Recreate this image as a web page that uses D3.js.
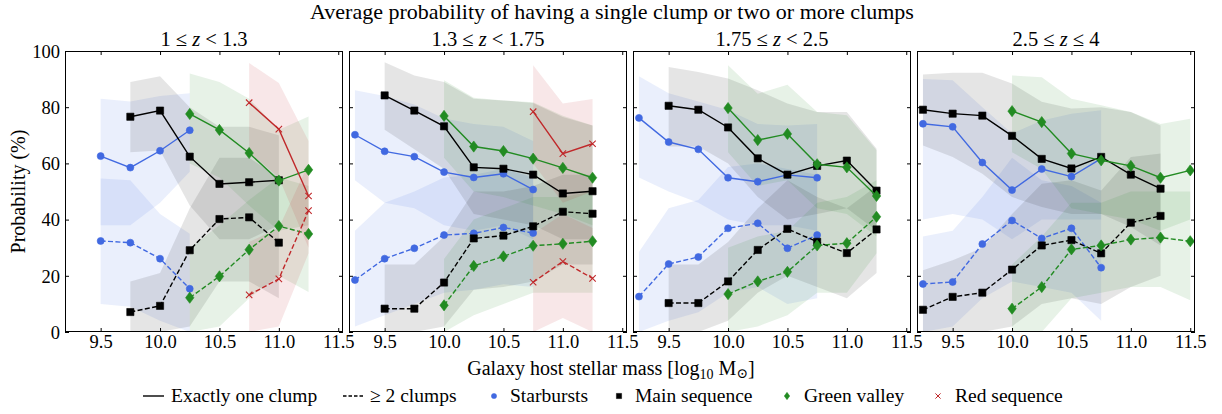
<!DOCTYPE html>
<html>
<head>
<meta charset="utf-8">
<script src="https://cdn.jsdelivr.net/npm/d3@7"></script>
<style>
  html, body { margin: 0; padding: 0; background: #fff; }
  svg { display: block; }
  svg text { font-family: "Liberation Serif", "Tinos", "Times New Roman", "DejaVu Serif", serif; }
</style>
</head>
<body>
<svg id="chart" width="1222" height="414"></svg>
<script>
// Redshift bins (one panel each)
const panelTitles = [
  ["1 \u2264 ", "z", " < 1.3"],
  ["1.3 \u2264 ", "z", " < 1.75"],
  ["1.75 \u2264 ", "z", " < 2.5"],
  ["2.5 \u2264 ", "z", " \u2264 4"]
];
const xTicks = [9.5, 10.0, 10.5, 11.0, 11.5];
const yTicks = [0, 20, 40, 60, 80, 100];

// Starbursts: mass bins, P(one clump), P(>=2 clumps) and their bands, per panel
const sbMass = [
  [9.5, 9.75, 10.0, 10.25],
  [9.25, 9.5, 9.75, 10.0, 10.25, 10.5, 10.75],
  [9.25, 9.5, 9.75, 10.0, 10.25, 10.5, 10.75],
  [9.25, 9.5, 9.75, 10.0, 10.25, 10.5, 10.75]
];
const sbOne = [
  [62.6, 58.5, 64.5, 71.8],
  [70.2, 64.3, 62.4, 56.9, 55.0, 56.3, 50.7],
  [76.2, 67.6, 65.0, 54.9, 53.5, 55.9, 54.9],
  [74.1, 73.0, 60.3, 50.5, 58.0, 55.3, 61.7]
];
const sbOneHi = [
  [83, 82, 84, 85],
  [86, 84, 81, 76, 74, 73, 68],
  [91, 85, 82, 79, 74, 73.5, 74],
  [90, 89.6, 80, 70.6, 75.3, 77.7, 78.9]
];
const sbOneLo = [
  [38, 38, 46, 57],
  [54, 46, 44, 38, 36, 38, 33],
  [55, 50, 46, 40, 38, 38, 36],
  [40, 42, 40, 33, 40, 40, 40]
];
const sbMulti = [
  [32.4, 31.8, 26.1, 15.4],
  [18.5, 26.1, 29.8, 34.5, 35.1, 37.2, 35.2],
  [12.6, 24.2, 26.7, 36.9, 38.7, 29.8, 34.5],
  [17.1, 17.8, 31.3, 39.7, 33.3, 36.9, 22.9]
];
const sbMultiHi = [
  [54.6, 54, 42, 35],
  [36, 46, 50, 55, 56, 58, 55],
  [28.5, 44, 47, 58.7, 60, 58, 56],
  [34, 36, 48, 62, 54, 52, 46]
];
const sbMultiLo = [
  [10, 9, 4, 0],
  [2, 6, 10, 14, 15, 17, 16],
  [0, 4, 7, 14, 16, 10, 12],
  [0, 2, 12, 18, 16, 14, 4]
];

// Main sequence
const msMass = [
  [9.75, 10.0, 10.25, 10.5, 10.75, 11.0],
  [9.5, 9.75, 10.0, 10.25, 10.5, 10.75, 11.0, 11.25],
  [9.5, 9.75, 10.0, 10.25, 10.5, 10.75, 11.0, 11.25],
  [9.25, 9.5, 9.75, 10.0, 10.25, 10.5, 10.75, 11.0, 11.25]
];
const msOne = [
  [76.6, 78.8, 62.4, 52.7, 53.3, 54.0],
  [84.2, 78.8, 73.2, 58.6, 58.1, 56.0, 49.3, 50.1],
  [80.5, 79.1, 72.8, 61.8, 56.0, 59.1, 61.0, 50.3],
  [79.1, 77.7, 77.0, 69.8, 61.6, 58.2, 62.3, 56.0, 51.0]
];
const msOneHi = [
  [89, 91, 80, 73, 73, 70],
  [96, 91.3, 89, 83, 82.4, 81.5, 76.5, 73.5],
  [94.3, 92.5, 90.2, 86, 81.3, 78.3, 78.3, 65.2],
  [91.6, 92.3, 92.3, 88.4, 81.9, 79.5, 80, 78.3, 73.5]
];
const msOneLo = [
  [64, 64.6, 45, 33, 33, 38],
  [72, 65, 58, 42, 40, 38, 33, 33],
  [66, 66, 60, 48, 40, 42, 44, 36],
  [66.4, 62.3, 56.3, 48, 44.5, 42, 42, 37.4, 30.8]
];
const msMulti = [
  [7.1, 9.3, 29.1, 40.2, 40.8, 31.8],
  [8.3, 8.3, 17.6, 33.3, 34.3, 37.6, 42.8, 42.1],
  [10.3, 10.3, 18.0, 29.2, 36.7, 32.1, 28.1, 36.5],
  [7.9, 12.5, 14.0, 22.2, 30.8, 32.7, 28.0, 38.9, 41.3]
];
const msMultiHi = [
  [18, 21, 44, 62, 62, 55],
  [24, 24, 34, 50, 50, 52, 56, 56],
  [24, 24, 32, 44, 54, 48, 44, 52],
  [22, 25.5, 30, 42, 52.8, 54, 50.4, 62.3, 63.5]
];
const msMultiLo = [
  [0, 0, 2, 18, 18, 12],
  [0, 0, 2, 15, 16, 18, 24, 24],
  [0, 0, 4, 14, 20, 16, 12, 21],
  [0, 0, 0, 2, 10, 12, 10, 16, 20]
];

// Green valley
const gvMass = [
  [10.25, 10.5, 10.75, 11.0, 11.25],
  [10.0, 10.25, 10.5, 10.75, 11.0, 11.25],
  [10.0, 10.25, 10.5, 10.75, 11.0, 11.25],
  [10.0, 10.25, 10.5, 10.75, 11.0, 11.25, 11.5]
];
const gvOne = [
  [77.6, 71.9, 63.7, 53.9, 57.7],
  [76.9, 66.0, 64.4, 61.7, 58.4, 54.9],
  [79.7, 68.3, 70.5, 59.7, 58.6, 48.4],
  [78.6, 74.7, 63.5, 61.1, 59.1, 54.9, 57.5]
];
const gvOneHi = [
  [92, 89, 83, 72, 76.7],
  [89.6, 83.4, 82.4, 81.8, 77, 73.5],
  [94.9, 84.8, 88, 78.3, 77.1, 64.7],
  [91.3, 90.7, 83, 80.7, 78.3, 74, 75.9]
];
const gvOneLo = [
  [60, 55, 45, 36, 38],
  [62, 50, 48, 45, 42, 38],
  [64, 52, 54, 44, 42, 34],
  [64, 58, 44, 42, 40, 36, 40]
];
const gvMulti = [
  [12.2, 19.8, 29.3, 37.7, 34.9],
  [9.5, 23.5, 26.9, 30.7, 31.4, 32.3],
  [13.5, 18.0, 21.4, 30.8, 31.6, 41.0],
  [8.3, 16.0, 29.4, 30.8, 32.9, 33.6, 32.3]
];
const gvMultiHi = [
  [30, 38, 47, 55, 52],
  [26, 40, 44, 48, 48, 50],
  [30, 34, 36, 46, 48, 54],
  [24, 34, 46, 46, 50, 50, 50]
];
const gvMultiLo = [
  [0, 2, 12, 20, 14.2],
  [0, 6, 10, 14, 14, 14],
  [0, 2, 6, 14, 14, 28],
  [0, 0, 12, 14, 16, 16, 11.3]
];

// Red sequence (only populated in the two lowest redshift bins)
const rsMass = [[10.75, 11.0, 11.25], [10.75, 11.0, 11.25], [], []];
const rsOne = [[81.6, 72.2, 48.4], [78.4, 63.5, 67.0], [], []];
const rsOneHi = [[95.7, 88.6, 68], [94.9, 81.3, 82.9], [], []];
const rsOneLo = [[64, 55, 30], [60, 46, 50], [], []];
const rsMulti = [[13.2, 18.9, 43.2], [17.7, 25.1, 19.1], [], []];
const rsMultiHi = [[32, 37, 60], [35, 42, 37], [], []];
const rsMultiLo = [[0, 2, 28], [0, 5, 0], [], []];

const populations = [
  { name: "Starbursts", color: "#4169e1", marker: "circle",
    mass: sbMass, one: sbOne, oneHi: sbOneHi, oneLo: sbOneLo, multi: sbMulti, multiHi: sbMultiHi, multiLo: sbMultiLo },
  { name: "Main sequence", color: "#000000", marker: "square",
    mass: msMass, one: msOne, oneHi: msOneHi, oneLo: msOneLo, multi: msMulti, multiHi: msMultiHi, multiLo: msMultiLo },
  { name: "Green valley", color: "#228b22", marker: "diamond",
    mass: gvMass, one: gvOne, oneHi: gvOneHi, oneLo: gvOneLo, multi: gvMulti, multiHi: gvMultiHi, multiLo: gvMultiLo },
  { name: "Red sequence", color: "#c0282a", marker: "cross",
    mass: rsMass, one: rsOne, oneHi: rsOneHi, oneLo: rsOneLo, multi: rsMulti, multiHi: rsMultiHi, multiLo: rsMultiLo }
];

// ---- layout ----
const svg = d3.select("#chart");
const SERIF = "Liberation Serif, Tinos, Times New Roman, DejaVu Serif, serif";
const panelLeft0 = 65, panelStep = 284, panelW = 278;
const plotTop = 51, plotBottom = 332;
const y = d3.scaleLinear().domain([0, 100]).range([plotBottom, plotTop]);

function markerPath(kind, s) {
  if (kind === "circle") return d3.symbol(d3.symbolCircle, Math.PI * s * s)();
  if (kind === "square") return `M${-s},${-s}H${s}V${s}H${-s}Z`;
  if (kind === "diamond") return `M0,${-s * 1.4}L${s * 1.05},0L0,${s * 1.4}L${-s * 1.05},0Z`;
  return `M${-s},${-s}L${s},${s}M${-s},${s}L${s},${-s}`;
}
const markerSize = { circle: 3.5, square: 3.6, diamond: 4.0, cross: 3.2 };

for (let p = 0; p < 4; p++) {
  const x0 = panelLeft0 + p * panelStep;
  const x = d3.scaleLinear().domain([9.2, 11.54]).range([x0, x0 + panelW]);
  const g = svg.append("g");
  const clipId = "clip" + p;
  svg.append("clipPath").attr("id", clipId)
    .append("rect").attr("x", x0).attr("y", plotTop).attr("width", panelW).attr("height", plotBottom - plotTop);
  const plot = g.append("g").attr("clip-path", `url(#${clipId})`);

  // uncertainty bands
  populations.forEach(pop => {
    const m = pop.mass[p];
    if (!m.length) return;
    [["oneLo", "oneHi"], ["multiLo", "multiHi"]].forEach(([lo, hi]) => {
      const rows = m.map((v, i) => ({ m: v, lo: pop[lo][p][i], hi: pop[hi][p][i] }));
      const area = d3.area().x(d => x(d.m)).y0(d => y(d.lo)).y1(d => y(d.hi));
      plot.append("path").attr("d", area(rows))
        .attr("fill", pop.color).attr("fill-opacity", pop.color === "#000000" ? 0.1 : 0.11);
    });
  });

  // curves and markers
  populations.forEach(pop => {
    const m = pop.mass[p];
    if (!m.length) return;
    [["one", null], ["multi", "5,2.4"]].forEach(([key, dash]) => {
      const rows = m.map((v, i) => ({ m: v, v: pop[key][p][i] }));
      const line = d3.line().x(d => x(d.m)).y(d => y(d.v));
      plot.append("path").attr("d", line(rows)).attr("fill", "none")
        .attr("stroke", pop.color).attr("stroke-width", 1.4)
        .attr("stroke-dasharray", dash);
      plot.selectAll(null).data(rows).enter().append("path")
        .attr("transform", d => `translate(${x(d.m)},${y(d.v)})`)
        .attr("d", markerPath(pop.marker, markerSize[pop.marker]))
        .attr("fill", pop.marker === "cross" ? "none" : pop.color)
        .attr("stroke", pop.color)
        .attr("stroke-width", pop.marker === "cross" ? 1.1 : 0.6);
    });
  });

  // axes with inward ticks on all four sides
  const tickLen = 4;
  const axB = d3.axisBottom(x).tickValues(xTicks).tickFormat(d3.format(".1f")).tickSizeInner(-tickLen).tickSizeOuter(0);
  const axT = d3.axisTop(x).tickValues(xTicks).tickFormat("").tickSizeInner(-tickLen).tickSizeOuter(0);
  const axL = d3.axisLeft(y).tickValues(yTicks).tickFormat(p === 0 ? d3.format("d") : "").tickSizeInner(-tickLen).tickSizeOuter(0).tickPadding(5);
  const axR = d3.axisRight(y).tickValues(yTicks).tickFormat("").tickSizeInner(-tickLen).tickSizeOuter(0);
  const gB = g.append("g").attr("transform", `translate(0,${plotBottom})`).call(axB);
  const gT = g.append("g").attr("transform", `translate(0,${plotTop})`).call(axT);
  const gL = g.append("g").attr("transform", `translate(${x0},0)`).call(axL);
  const gR = g.append("g").attr("transform", `translate(${x0 + panelW},0)`).call(axR);
  [gB, gT, gL, gR].forEach(a => {
    a.attr("font-family", SERIF);
    a.select(".domain").remove();
    a.selectAll(".tick line").attr("stroke", "#000").attr("stroke-width", 1);
    a.selectAll(".tick text").attr("fill", "#000").attr("font-size", 18.5);
  });
  gB.selectAll(".tick text").attr("y", 16).attr("dy", 0);
  gL.selectAll(".tick text").attr("dy", "0.34em");

  g.append("rect").attr("x", x0 + 0.5).attr("y", plotTop + 0.5)
    .attr("width", panelW - 1).attr("height", plotBottom - plotTop - 1)
    .attr("fill", "none").attr("stroke", "#000").attr("stroke-width", 1);

  // panel title
  const t = g.append("text").attr("x", x0 + panelW / 2).attr("y", 46)
    .attr("text-anchor", "middle").attr("font-size", 20.5);
  t.append("tspan").text(panelTitles[p][0]);
  t.append("tspan").attr("font-style", "italic").text(panelTitles[p][1]);
  t.append("tspan").text(panelTitles[p][2]);
}

// figure title
svg.append("text").attr("x", 612).attr("y", 19).attr("text-anchor", "middle")
  .attr("font-size", 22)
  .text("Average probability of having a single clump or two or more clumps");

// y label
svg.append("text").attr("transform", `translate(25,${(plotTop + plotBottom) / 2}) rotate(-90)`)
  .attr("text-anchor", "middle").attr("font-size", 20).text("Probability (%)");

// x label
const xl = svg.append("text").attr("x", 611).attr("y", 375).attr("text-anchor", "middle")
  .attr("font-size", 20);
xl.append("tspan").text("Galaxy host stellar mass [log");
xl.append("tspan").attr("dy", 4).attr("font-size", 14).text("10");
xl.append("tspan").attr("dy", -4).text(" M");
xl.append("tspan").attr("dy", 3).attr("font-size", 14).text("\u2299");
xl.append("tspan").attr("dy", -3).text("]");

// legend
const legY = 396;
const leg = svg.append("g");
leg.append("line").attr("x1", 143).attr("x2", 164).attr("y1", legY).attr("y2", legY)
  .attr("stroke", "#000").attr("stroke-width", 1.4);
leg.append("line").attr("x1", 343).attr("x2", 364).attr("y1", legY).attr("y2", legY)
  .attr("stroke", "#000").attr("stroke-width", 1.4).attr("stroke-dasharray", "3.5,2");
const legendText = [
  { x: 171, label: "Exactly one clump" },
  { x: 370, label: "\u2265 2 clumps" }
];
populations.forEach((pop, i) => {
  const mx = [494, 619, 787, 938][i];
  leg.append("path").attr("transform", `translate(${mx},${legY})`)
    .attr("d", markerPath(pop.marker, 2.6))
    .attr("fill", pop.marker === "cross" ? "none" : pop.color)
    .attr("stroke", pop.color).attr("stroke-width", pop.marker === "cross" ? 1 : 0.5);
  legendText.push({ x: [510, 635, 804, 955][i], label: pop.name });
});
legendText.forEach(d => {
  leg.append("text").attr("x", d.x).attr("y", legY + 6).attr("font-size", 19.5).text(d.label);
});
</script>
</body>
</html>
